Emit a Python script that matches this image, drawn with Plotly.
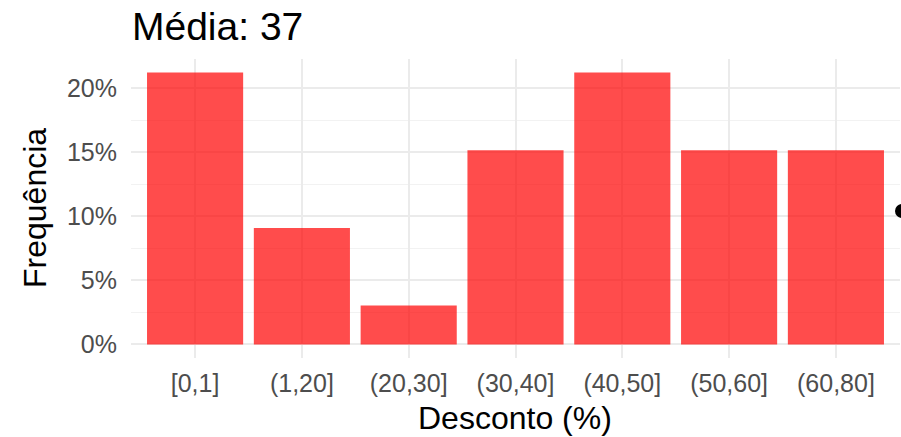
import plotly.graph_objects as go

categories = ["[0,1]", "(1,20]", "(20,30]", "(30,40]", "(40,50]", "(50,60]", "(60,80]"]
counts = [7, 3, 1, 5, 7, 5, 5]
total = sum(counts)
freq = [c / total for c in counts]
title_text = "Média: 37"
x_title = "Desconto (%)"
y_title = "Frequência"

FONT = "Liberation Sans, Arial, Helvetica, sans-serif"
ymax = max(freq)

W, H = 901, 437
L, R, T, B = 131, 1, 59, 79
PW, PH = W - L - R, H - T - B

def px_x(x):
    return (x - L) / PW

def px_y(y):
    return (H - B - y) / PH

fig = go.Figure()
fig.add_trace(go.Bar(
    x=categories, y=freq,
    marker=dict(color="rgba(255,0,0,0.7)", line=dict(width=0)),
    width=0.9, hoverinfo="x+y",
))

fig.update_layout(
    width=W, height=H,
    margin=dict(l=L, r=R, t=T, b=B, autoexpand=False),
    paper_bgcolor="white", plot_bgcolor="white",
    showlegend=False,
    font=dict(family=FONT, color="black"),
    title=dict(text=title_text, x=132 / W, xanchor="left", xref="container",
               y=1 - 26 / H, yanchor="middle", yref="container",
               font=dict(size=39, color="black", family=FONT)),
    xaxis=dict(
        type="category", categoryorder="array", categoryarray=categories,
        range=[-0.6, len(categories) - 0.4],
        showgrid=True, gridcolor="#EBEBEB", gridwidth=2,
        showline=False, zeroline=False, ticks="", automargin=False,
        tickfont=dict(size=25, color="#4D4D4D", family=FONT),
        ticklabelstandoff=8,
    ),
    yaxis=dict(
        range=[-0.05 * ymax, 1.05 * ymax],
        tickvals=[0, 0.05, 0.10, 0.15, 0.20],
        tickformat=".0%",
        showgrid=True, gridcolor="#EBEBEB", gridwidth=2,
        minor=dict(tickvals=[0.025, 0.075, 0.125, 0.175], showgrid=True,
                   gridcolor="#F2F2F2", gridwidth=1, ticks=""),
        showline=False, zeroline=False, ticks="", automargin=False,
        tickfont=dict(size=25, color="#4D4D4D", family=FONT),
        ticklabelstandoff=13,
    ),
    annotations=[
        dict(text=x_title, xref="paper", yref="paper", x=px_x(515), y=px_y(418),
             xanchor="center", yanchor="middle", showarrow=False,
             font=dict(size=32, color="black", family=FONT)),
        dict(text=y_title, xref="paper", yref="paper", x=px_x(35), y=px_y(208),
             xanchor="center", yanchor="middle", showarrow=False, textangle=-90,
             font=dict(size=32, color="black", family=FONT)),
    ],
)

# partially visible legend key at the right edge
fig.add_shape(type="circle", xref="paper", yref="paper",
              x0=px_x(895), x1=px_x(909),
              y0=px_y(218), y1=px_y(204),
              fillcolor="black", line=dict(width=0), layer="above")

fig.write_html("out.html", config={"displayModeBar": False},
               post_script="document.body.style.margin='0';")
